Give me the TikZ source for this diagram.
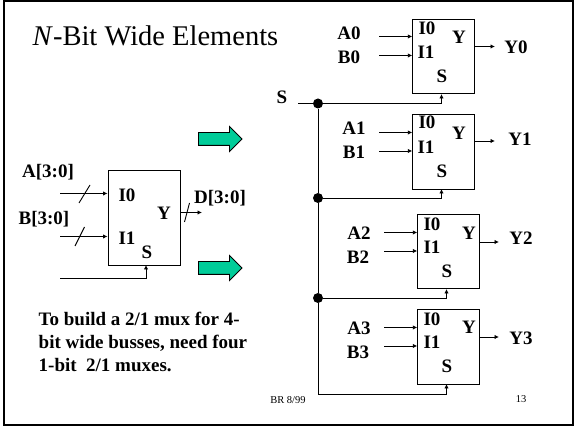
\documentclass[tikz,border=0pt]{standalone}
\usepackage{fontspec}
\setmainfont{Liberation Serif}
\usetikzlibrary{shapes.arrows, arrows.meta}
\tikzset{
  mux/.style={shape=rectangle, draw=black, line width=0.9pt, inner sep=0pt, minimum width=61.5pt, minimum height=74.5pt},
  txt/.style={inner sep=0pt, font=\fontsize{19}{23}\selectfont\bfseries},
  wire/.style={-{Latex[length=4.5pt,width=4.5pt]}, line width=0.9pt, draw=black},
  bar/.style={-, line width=0.9pt, draw=black},
  dot/.style={shape=circle, fill=black, inner sep=0pt, minimum size=10pt},
  fat/.style={shape=single arrow, draw=black, line width=0.9pt, fill=fatgreen, inner xsep=0pt, inner ysep=6pt, minimum height=43.5pt, minimum width=24pt, single arrow head extend=6pt},
  foot/.style={inner sep=0pt, font=\fontsize{10.5}{12}\selectfont}
}
\definecolor{fatgreen}{RGB}{0,204,153}
\begin{document}
\begin{tikzpicture}[x=1pt, y=-1pt]
\useasboundingbox (0,0) rectangle (574,427);
\draw[line width=2pt] (4,1) rectangle (573,425);
\node[inner sep=0pt, font=\fontsize{28.5}{30}\selectfont] (title) at (155.5,36) {\textit{N}-Bit Wide Elements};
% left mux
\node[mux, minimum width=72pt, minimum height=95pt] (mw) at (144,217.5) {};
\node[txt] (mwa) at (127,195) {I0};
\node[txt] (mwb) at (127,238) {I1};
\node[txt] (mwy) at (164,213) {Y};
\node[txt] (mws) at (147,252) {S};
\node[txt] (la) at (48,172) {A[3:0]};
\node[txt] (lb) at (44,219) {B[3:0]};
\node[txt] (ld) at (220,198) {D[3:0]};
\coordinate (ina) at (60,193.5);
\coordinate (inb) at (60,236.5);
\coordinate (ins) at (60,278);
\coordinate (outd) at (202,212.5);
\coordinate (sels) at (146,265);
\coordinate (ta1) at (79,203);
\coordinate (ta2) at (90,185);
\coordinate (tb1) at (75,246);
\coordinate (tb2) at (84.5,227);
\coordinate (td1) at (184.5,222);
\coordinate (td2) at (189.5,203);
\draw[wire] (ina) -- (ina -| mw.west);
\draw[wire] (inb) -- (inb -| mw.west);
\draw[wire] (outd -| mw.east) -- (outd);
\draw[wire] (ins) -| (sels);
\draw[bar] (ta1) -- (ta2);
\draw[bar] (tb1) -- (tb2);
\draw[bar] (td1) -- (td2);
% big arrows
\node[fat] (fat1) at (217,139) {};
\node[fat] (fat2) at (217,268) {};
% text below
\node[txt, align=left, anchor=north west] (note) at (38.5,312) {To build a 2/1 mux for 4-\\bit wide busses, need four\\1-bit\ \ 2/1 muxes.};
% mux 0
\node[mux] (m0) at (443.5,56.5) {};
\node[txt] at (427,28) (m0a) {I0};
\node[txt] at (426,52) (m0b) {I1};
\node[txt] at (459,37) (m0y) {Y};
\node[txt] at (442,76) (m0s) {S};
\node[txt] (la0) at (349,33) {A0};
\node[txt] (lb0) at (349,57) {B0};
\node[txt] (ly0) at (516,47) {Y0};
\coordinate (a0) at (379,36.5);
\coordinate (b0) at (379,55.5);
\coordinate (y0) at (495,46.5);
\coordinate (s0) at (441.5,94);
% mux 1
\node[mux] (m1) at (443.5,152) {};
\node[txt] at (427,122) (m1a) {I0};
\node[txt] at (426,147) (m1b) {I1};
\node[txt] at (459,133) (m1y) {Y};
\node[txt] at (442,171) (m1s) {S};
\node[txt] (la1) at (354,128) {A1};
\node[txt] (lb1) at (354,152) {B1};
\node[txt] (ly1) at (520,139) {Y1};
\coordinate (a1) at (379,132.5);
\coordinate (b1) at (379,151);
\coordinate (y1) at (495,141);
\coordinate (s1) at (441.5,189);
% mux 2
\node[mux] (m2) at (448.5,251.5) {};
\node[txt] at (432,224) (m2a) {I0};
\node[txt] at (432,247) (m2b) {I1};
\node[txt] at (469,233) (m2y) {Y};
\node[txt] at (447,271) (m2s) {S};
\node[txt] (la2) at (359,233) {A2};
\node[txt] (lb2) at (358,257) {B2};
\node[txt] (ly2) at (521,238) {Y2};
\coordinate (a2) at (384,232.5);
\coordinate (b2) at (384,251);
\coordinate (y2) at (499,242);
\coordinate (s2) at (446.5,289);
% mux 3
\node[mux] (m3) at (448.5,347) {};
\node[txt] at (432,319) (m3a) {I0};
\node[txt] at (432,342) (m3b) {I1};
\node[txt] at (469,327) (m3y) {Y};
\node[txt] at (447,366) (m3s) {S};
\node[txt] (la3) at (359,328) {A3};
\node[txt] (lb3) at (358,352) {B3};
\node[txt] (ly3) at (521,338) {Y3};
\coordinate (a3) at (384,327.5);
\coordinate (b3) at (384,346);
\coordinate (y3) at (499,337);
\coordinate (s3) at (446.5,384);
\draw[wire] (a0) -- (a0 -| m0.west);
\draw[wire] (b0) -- (b0 -| m0.west);
\draw[wire] (y0 -| m0.east) -- (y0);
\draw[wire] (a1) -- (a1 -| m1.west);
\draw[wire] (b1) -- (b1 -| m1.west);
\draw[wire] (y1 -| m1.east) -- (y1);
\draw[wire] (a2) -- (a2 -| m2.west);
\draw[wire] (b2) -- (b2 -| m2.west);
\draw[wire] (y2 -| m2.east) -- (y2);
\draw[wire] (a3) -- (a3 -| m3.west);
\draw[wire] (b3) -- (b3 -| m3.west);
\draw[wire] (y3 -| m3.east) -- (y3);
% select line
\node[txt] (ls) at (282,97) {S};
\coordinate (sin) at (298,103.5);
\node[dot] (j0) at (318,103.5) {};
\node[dot] (j1) at (318,198) {};
\node[dot] (j2) at (318,298) {};
\coordinate (j3) at (318,394);
\draw[bar] (sin) -- (j0);
\draw[bar] (j0) -- (j1);
\draw[bar] (j1) -- (j2);
\draw[wire] (j0) -| (s0);
\draw[wire] (j1) -| (s1);
\draw[wire] (j2) -| (s2);
\draw[wire] (j2) |- (j3 -| s3) -- (s3);
% footer
\node[foot] (br) at (288,400) {BR 8/99};
\node[foot] (pg) at (521,399) {13};
\end{tikzpicture}
\end{document}
